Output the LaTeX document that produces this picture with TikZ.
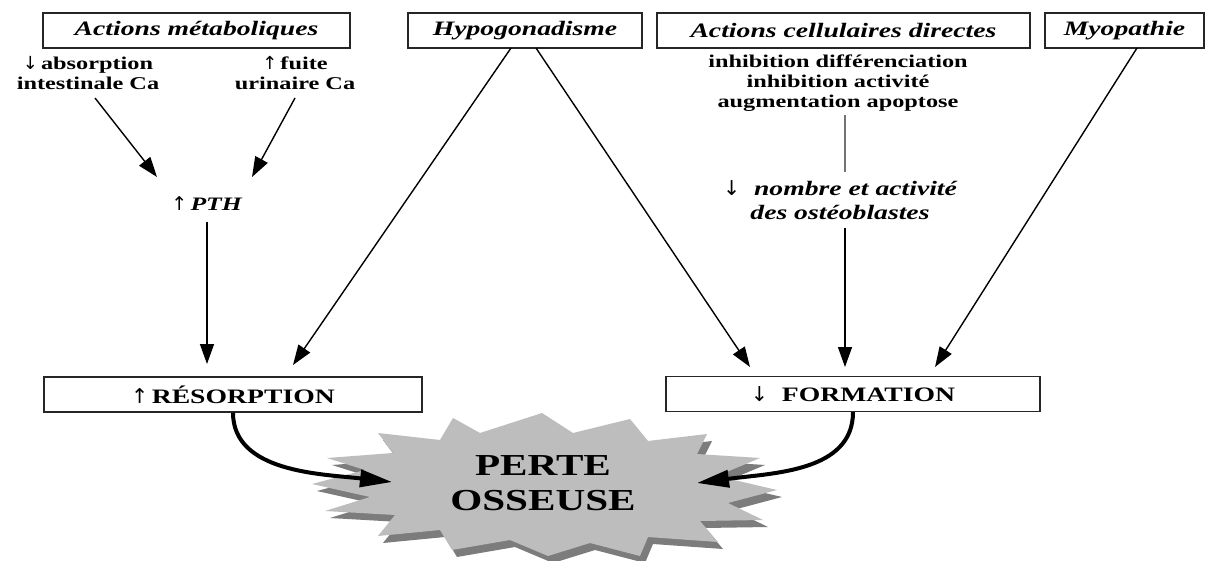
\documentclass[tikz,border=0pt]{standalone}
\usepackage{fontspec}
\setmainfont{Liberation Serif}[FakeStretch=1.35]
\newfontfamily\arrowfont{DejaVu Sans}
\newcommand\uparr{{\arrowfont\mdseries\upshape ↑}}
\newcommand\downarr{{\arrowfont\mdseries\upshape ↓}}
\usetikzlibrary{arrows.meta}
\definecolor{burst}{HTML}{BDBDBD}
\definecolor{burstshadow}{HTML}{7C7C7C}
\begin{document}
\begin{tikzpicture}[x=1pt,y=-1pt,
  tbox/.style={draw=black!85, line width=1.2pt, inner sep=0pt, minimum height=35,
    font=\fontsize{20.5}{24}\selectfont\bfseries\itshape},
  rbox/.style={draw=black!85, line width=1.2pt, inner sep=0pt, minimum height=35,
    font=\fontsize{20.5}{24}\selectfont\bfseries},
  small/.style={align=center, inner sep=0pt, font=\fontsize{18}{20}\selectfont\bfseries},
  arr/.style={line width=1.4pt, -{Triangle[length=20pt,width=14pt]}},
  big/.style={line width=4pt, -{Triangle[length=32pt,width=17pt]}}
]
\useasboundingbox (0,0) rectangle (1215,561);
\fill[white] (0,0) rectangle (1215,561);

% top boxes
\node[tbox, minimum width=307] (am) at (196.5,30.5) {Actions métaboliques};
\node[tbox, minimum width=234] (hy) at (525,30.5) {Hypogonadisme};
\node[tbox, minimum width=373] (ac) at (843.5,30.5) {Actions cellulaires directes};
\node[tbox, minimum width=159] (my) at (1124.5,30.5) {Myopathie};

% texts
\node[small] (abs) at (88,73) {\downarr\,absorption\\intestinale Ca};
\node[small] (fu) at (295,73) {\uparr\,fuite\\urinaire Ca};
\node[inner sep=0pt, font=\fontsize{19}{22}\selectfont\bfseries] (pth) at (207,204) {\uparr\,\textit{PTH}};
\node[small] (inh) at (838,83) {inhibition différenciation\\inhibition activité\\augmentation apoptose};
\node[align=center, inner sep=0pt, font=\fontsize{20.5}{24}\selectfont\bfseries\itshape] (nb) at (840,200)
  {\downarr\ \ nombre et activité\\des ostéoblastes};

% bottom boxes
\node[rbox, minimum width=378] (res) at (233,394.5) {\uparr\,RÉSORPTION};
\node[rbox, minimum width=374] (form) at (853,394) {\downarr\ \ FORMATION};

% starburst
\def\burstpath{(542,413) -- (573,433) -- (630,419) -- (648,441) -- (707,434) -- (697,454) -- (760,458) -- (717,476) -- (777,490) -- (728,503) -- (763,520) -- (700,521) -- (718,542) -- (648,537) -- (640,556) -- (590,543) -- (548,556) -- (510,540) -- (452,550) -- (440,530) -- (378,536) -- (395,515) -- (325,511) -- (370,497) -- (312,484) -- (365,470) -- (327,458) -- (393,453) -- (378,433) -- (440,440) -- (453,418) -- (480,433) -- cycle}
\begin{scope}[shift={(5,7)}]
  \fill[burstshadow] \burstpath;
\end{scope}
\fill[burst] \burstpath;
\node[align=center, inner sep=0pt, font=\fontsize{30.5}{35}\selectfont\bfseries] (perte) at (543,483) {PERTE\\OSSEUSE};

% coordinates for connector ends
\coordinate (a1) at (95,98);   \coordinate (a2) at (157,177);
\coordinate (b1) at (295,98);  \coordinate (b2) at (252,177);
\coordinate (p1) at (207,222); \coordinate (p2) at (207,364);
\coordinate (h1) at (511,48);  \coordinate (h2) at (293,365);
\coordinate (h3) at (536,48);  \coordinate (h4) at (750,367);
\coordinate (g1) at (845,115); \coordinate (g2) at (845,172);
\coordinate (n1) at (845,228); \coordinate (n2) at (845,367);
\coordinate (m1) at (1137,48); \coordinate (m2) at (935,367);
\coordinate (tipL) at (392,482);
\coordinate (tipR) at (697,483);

\draw[arr] (a1) -- (a2);
\draw[arr] (b1) -- (b2);
\draw[arr] (p1) -- (p2);
\draw[arr] (h1) -- (h2);
\draw[arr] (h3) -- (h4);
\draw[black!55, line width=2.5pt] (g1) -- (g2);
\draw[arr] (n1) -- (n2);
\draw[arr] (m1) -- (m2);

\draw[big] (res.south) .. controls +(0,60) and +(-70,-8) .. (tipL);
\draw[big] (form.south) .. controls +(0,60) and +(75,-10) .. (tipR);
\end{tikzpicture}
\end{document}
